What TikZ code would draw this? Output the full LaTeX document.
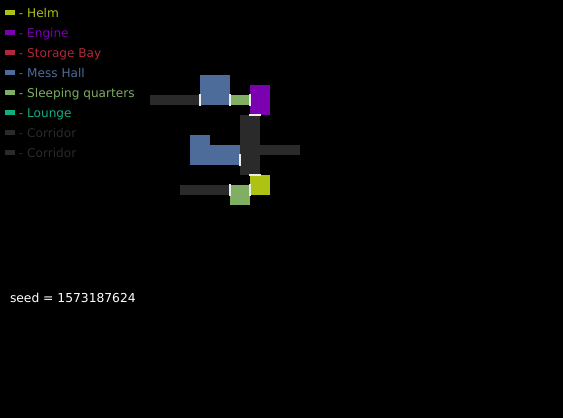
\documentclass[tikz,border=0pt]{standalone}
\usepackage{fontspec}
\setmainfont{DejaVu Sans}
\definecolor{helm}{HTML}{AEC214}
\definecolor{engine}{HTML}{7A00B0}
\definecolor{storage}{HTML}{B0283C}
\definecolor{mess}{HTML}{4E6C9A}
\definecolor{sleep}{HTML}{80AE62}
\definecolor{lounge}{HTML}{10AE80}
\definecolor{corr}{HTML}{2A2A2A}
\tikzset{
  legendtext/.style={anchor=base west,inner sep=0pt,outer sep=0pt,font=\fontsize{12.1}{14}\selectfont},
  seedtext/.style={anchor=base west,inner sep=0pt,outer sep=0pt,font=\fontsize{12.3}{14}\selectfont},
  door/.style={draw=white!92!black,line width=1.6pt},
}
\newcommand{\legendrow}[4]{%
  \fill[#2] (5,#3) rectangle (15,#3+5);
  \node[legendtext,text=#2] (#4) at (19,#3+7) {- #1};
}
\begin{document}
\begin{tikzpicture}[x=1pt,y=-1pt]
\useasboundingbox (0,0) rectangle (563,418);
\fill[black] (0,0) rectangle (563,418);
\legendrow{Helm}{helm}{10}{lhelm}
\legendrow{Engine}{engine}{30}{lengine}
\legendrow{Storage Bay}{storage}{50}{lstorage}
\legendrow{Mess Hall}{mess}{70}{lmess}
\legendrow{Sleeping quarters}{sleep}{90}{lsleep}
\legendrow{Lounge}{lounge}{110}{llounge}
\legendrow{Corridor}{corr}{130}{lcorra}
\legendrow{Corridor}{corr}{150}{lcorrb}
\node[seedtext,text=white] (seed) at (10,302) {seed = 1573187624};
% rooms
\fill[mess] (200,75) rectangle (230,105);
\fill[corr] (150,95) rectangle (200,105);
\fill[sleep] (230,95) rectangle (250,105);
\fill[engine] (250,85) rectangle (270,115);
\fill[corr] (240,115) rectangle (260,175);
\fill[corr] (260,145) rectangle (300,155);
\fill[mess] (190,135) rectangle (210,165);
\fill[mess] (210,145) rectangle (240,165);
\fill[corr] (180,185) rectangle (230,195);
\fill[sleep] (230,185) rectangle (250,205);
\fill[helm] (250,175) rectangle (270,195);
% doors
\draw[door] (200,94) -- (200,106);
\draw[door] (230,94) -- (230,106);
\draw[door] (250,94) -- (250,106);
\draw[door] (249,115) -- (261,115);
\draw[door] (240,154) -- (240,166);
\draw[door] (249,175) -- (261,175);
\draw[door] (230,184) -- (230,196);
\draw[door] (250,184) -- (250,196);
\end{tikzpicture}
\end{document}
